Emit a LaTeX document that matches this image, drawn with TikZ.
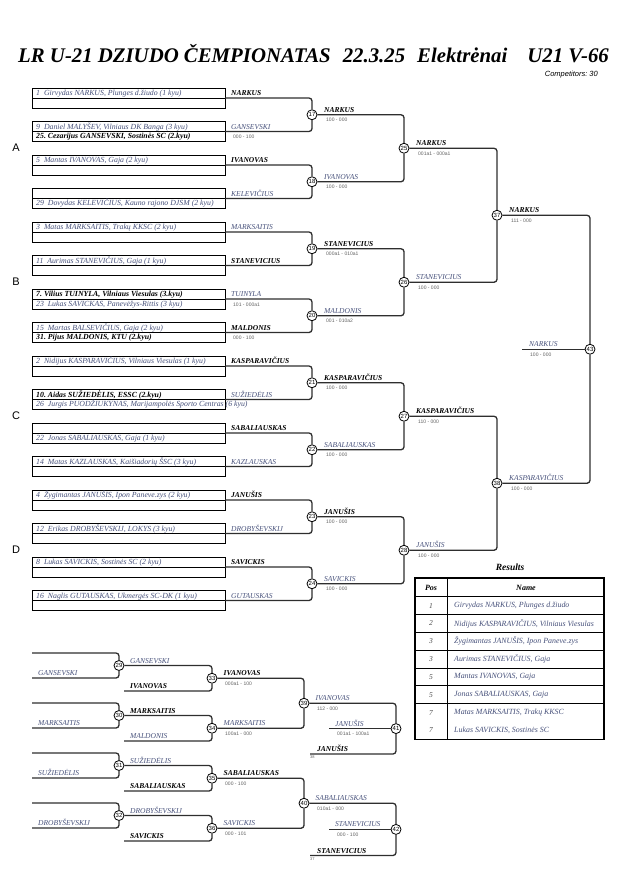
\documentclass[tikz,border=0pt]{standalone}
\usepackage{fontspec}
\setmainfont{Liberation Serif}
\setsansfont{Liberation Sans}

\definecolor{JudoBlue}{HTML}{46507A}
\definecolor{JudoGrey}{HTML}{606060}
\definecolor{JudoLine}{HTML}{2E2E2E}

\tikzset{
  bline/.style={draw=JudoLine, line width=1.3pt, rounded corners=3pt},
  ebox/.style={draw=black, line width=0.9pt},
  mnum/.style={circle, draw=black, fill=white, line width=0.8pt, inner sep=0pt,
    minimum size=10pt, font=\sffamily\fontsize{6}{6}\selectfont},
  win/.style={anchor=base west, inner sep=0pt, font=\fontsize{7.5}{8}\selectfont\bfseries\itshape},
  lose/.style={anchor=base west, inner sep=0pt, text=JudoBlue, font=\fontsize{7.5}{8}\selectfont\itshape},
  score/.style={anchor=west, inner sep=0pt, text=JudoGrey, font=\sffamily\fontsize{5}{5}\selectfont},
  entry/.style={anchor=base west, inner sep=0pt, text=JudoBlue, font=\fontsize{7.8}{8}\selectfont\itshape},
  seeded/.style={anchor=base west, inner sep=0pt, font=\fontsize{7.8}{8}\selectfont\bfseries\itshape},
  pool/.style={font=\sffamily\fontsize{11}{11}\selectfont},
  thead/.style={font=\fontsize{8}{8}\selectfont\bfseries\itshape},
  rpos/.style={text=black!70, font=\fontsize{7.5}{8}\selectfont\itshape},
  rname/.style={anchor=west, inner sep=0pt, text=JudoBlue, font=\fontsize{7.9}{8}\selectfont\itshape},
  from/.style={anchor=north west, inner sep=0pt, text=JudoGrey, font=\sffamily\fontsize{4}{4}\selectfont},
}

\begin{document}
\begin{tikzpicture}[x=1pt, y=-1pt]
\useasboundingbox (0,0) rectangle (630,891);

% title
\node[anchor=base west, inner sep=0pt, font=\fontsize{20.8}{22}\selectfont\bfseries\itshape] (title) at (18,63)
  {LR U-21 DZIUDO ČEMPIONATAS\hspace{12pt}22.3.25\hspace{12pt}Elektrėnai\hspace{20pt}U21 V-66};
\node[anchor=base east, inner sep=0pt, font=\sffamily\itshape\fontsize{7.5}{8}\selectfont] (comp) at (598,77) {Competitors:~30};

% pools
\foreach \pl [count=\kk from 0] in {A,B,C,D}
  \node[pool] (pool\pl) at (16,{148+134*\kk}) {\pl};

% entry boxes
\foreach \ii in {1,...,16}{
  \pgfmathsetmacro\ty{88+33.5*(\ii-1)}
  \draw[ebox] (32,\ty) rectangle (225,\ty+20);
  \draw[ebox] (32,\ty+10) -- (225,\ty+10);
  \coordinate (e\ii) at (225,\ty+10);
}
\foreach \ii/\rw/\sty/\txt in {
  1/0/entry/{1~~Girvydas NARKUS, Plunges d.žiudo (1~kyu)},
  2/0/entry/{9~~Daniel MALYŠEV, Vilniaus DK Banga (3~kyu)},
  2/1/seeded/{25.~Cezarijus GANSEVSKI, Sostinės SC (2.kyu)},
  3/0/entry/{5~~Mantas IVANOVAS, Gaja (2~kyu)},
  4/1/entry/{29~~Dovydas KELEVIČIUS, Kauno rajono DJSM (2~kyu)},
  5/0/entry/{3~~Matas MARKSAITIS, Trakų KKSC (2~kyu)},
  6/0/entry/{11~~Aurimas STANEVIČIUS, Gaja (1~kyu)},
  7/0/seeded/{7.~Vilius TUINYLA, Vilniaus Viesulas (3.kyu)},
  7/1/entry/{23~~Lukas SAVICKAS, Panevėžys-Rittis (3~kyu)},
  8/0/entry/{15~~Martas BALSEVIČIUS, Gaja (2~kyu)},
  8/1/seeded/{31.~Pijus MALDONIS, KTU (2.kyu)},
  9/0/entry/{2~~Nidijus KASPARAVIČIUS, Vilniaus Viesulas (1~kyu)},
  10/0/seeded/{10.~Aidas SUŽIEDĖLIS, ESSC (2.kyu)},
  10/1/entry/{26~~Jurgis PUODŽIUKYNAS, Marijampolės Sporto Centras (6~kyu)},
  11/1/entry/{22~~Jonas SABALIAUSKAS, Gaja (1~kyu)},
  12/0/entry/{14~~Matas KAZLAUSKAS, Kaišiadorių ŠSC (3~kyu)},
  13/0/entry/{4~~Žygimantas JANUŠIS, Ipon Paneve.zys (2~kyu)},
  14/0/entry/{12~~Erikas DROBYŠEVSKIJ, LOKYS (3~kyu)},
  15/0/entry/{8~~Lukas SAVICKIS, Sostinės SC (2~kyu)},
  16/0/entry/{16~~Naglis GUTAUSKAS, Ukmergės SC-DK (1~kyu)}}
  \node[\sty] at (36,{88+33.5*(\ii-1)+7.5+9.5*\rw}) {\txt};

% main bracket
\foreach \kk in {1,...,8}{
  \pgfmathtruncatemacro\mn{16+\kk}
  \node[mnum] (m\mn) at (312,{114.75+67*(\kk-1)}) {\mn};
}
\foreach \kk in {1,...,4}{
  \pgfmathtruncatemacro\mn{24+\kk}
  \node[mnum] (m\mn) at (404,{148.25+134*(\kk-1)}) {\mn};
}
\node[mnum] (m37) at (497,215.25) {37};
\node[mnum] (m38) at (497,483.25) {38};
\node[mnum] (m43) at (590,349.25) {43};
\coordinate (fin) at (522,349.25);

\foreach \kk in {1,...,8}{
  \pgfmathtruncatemacro\mn{16+\kk}
  \pgfmathtruncatemacro\ma{2*\kk-1}
  \pgfmathtruncatemacro\mb{2*\kk}
  \draw[bline] (e\ma) -| (m\mn.north);
  \draw[bline] (e\mb) -| (m\mn.south);
}
\foreach \mn/\ma/\mb in {25/17/18,26/19/20,27/21/22,28/23/24,37/25/26,38/27/28,43/37/38}{
  \draw[bline] (m\ma.east) -| (m\mn.north);
  \draw[bline] (m\mb.east) -| (m\mn.south);
}
\draw[bline] (fin) -- (m43.west);

% names after the first round
\foreach \ii/\sty/\nm in {1/win/NARKUS, 2/lose/GANSEVSKI, 3/win/IVANOVAS, 4/lose/KELEVIČIUS,
  5/lose/MARKSAITIS, 6/win/STANEVICIUS, 7/lose/TUINYLA, 8/win/MALDONIS,
  9/win/KASPARAVIČIUS, 10/lose/SUŽIEDĖLIS, 11/win/SABALIAUSKAS, 12/lose/KAZLAUSKAS,
  13/win/JANUŠIS, 14/lose/DROBYŠEVSKIJ, 15/win/SAVICKIS, 16/lose/GUTAUSKAS}
  \node[\sty] at ([xshift=6pt,yshift=2.5pt]e\ii) {\nm};
\foreach \ii/\scr in {2/000 - 100, 7/101 - 000a1, 8/000 - 100}
  \node[score] at ([xshift=8pt,yshift=-5.5pt]e\ii) {\scr};

% winners of each match
\foreach \mn/\sty/\nm/\scr in {17/win/NARKUS/100 - 000, 18/lose/IVANOVAS/100 - 000,
  19/win/STANEVICIUS/000a1 - 010a1, 20/lose/MALDONIS/001 - 010a2,
  21/win/KASPARAVIČIUS/100 - 000, 22/lose/SABALIAUSKAS/100 - 000,
  23/win/JANUŠIS/100 - 000, 24/lose/SAVICKIS/100 - 000,
  25/win/NARKUS/001a1 - 000a1, 26/lose/STANEVICIUS/100 - 000,
  27/win/KASPARAVIČIUS/110 - 000, 28/lose/JANUŠIS/100 - 000,
  37/win/NARKUS/111 - 000, 38/lose/KASPARAVIČIUS/100 - 000}{
  \node[\sty] at ([xshift=12pt,yshift=2.5pt]m\mn.center) {\nm};
  \node[score] at ([xshift=14pt,yshift=-5.5pt]m\mn.center) {\scr};
}
\node[lose] at ([xshift=7pt,yshift=2.5pt]fin) {NARKUS};
\node[score] at ([xshift=8pt,yshift=-5.5pt]fin) {100 - 000};

% repechage
\foreach \grp in {0,...,3}{
  \coordinate (ra\grp) at (32,{653+50*\grp});
  \coordinate (rb\grp) at (32,{678+50*\grp});
  \coordinate (rc\grp) at (124,{691+50*\grp});
  \pgfmathtruncatemacro\mn{29+\grp}
  \pgfmathtruncatemacro\mq{33+\grp}
  \node[mnum] (m\mn) at (119,{665.5+50*\grp}) {\mn};
  \node[mnum] (m\mq) at (212,{678.25+50*\grp}) {\mq};
  \draw[bline] (ra\grp) -| (m\mn.north);
  \draw[bline] (rb\grp) -| (m\mn.south);
  \draw[bline] (m\mn.east) -| (m\mq.north);
  \draw[bline] (rc\grp) -| (m\mq.south);
}
\node[mnum] (m39) at (304,703.25) {39};
\node[mnum] (m40) at (304,803.25) {40};
\node[mnum] (m41) at (396,728.6) {41};
\node[mnum] (m42) at (396,829.4) {42};
\coordinate (rd1) at (310,754);
\coordinate (rd2) at (310,855.5);
\coordinate (rl1) at (329,728.6);
\coordinate (rl2) at (329,829.4);
\foreach \mn/\ma/\mb in {39/33/34,40/35/36}{
  \draw[bline] (m\ma.east) -| (m\mn.north);
  \draw[bline] (m\mb.east) -| (m\mn.south);
}
\draw[bline] (m39.east) -| (m41.north);
\draw[bline] (rd1) -| (m41.south);
\draw[bline] (rl1) -- (m41.west);
\draw[bline] (m40.east) -| (m42.north);
\draw[bline] (rd2) -| (m42.south);
\draw[bline] (rl2) -- (m42.west);

\foreach \grp/\nm in {0/GANSEVSKI,1/MARKSAITIS,2/SUŽIEDĖLIS,3/DROBYŠEVSKIJ}
  \node[lose] at ([xshift=6pt,yshift=2.5pt]rb\grp) {\nm};
\foreach \grp/\sty/\nm in {0/win/IVANOVAS,1/lose/MALDONIS,2/win/SABALIAUSKAS,3/win/SAVICKIS}
  \node[\sty] at ([xshift=6pt,yshift=2.5pt]rc\grp) {\nm};
\foreach \mn/\sty/\nm in {29/lose/GANSEVSKI,30/win/MARKSAITIS,31/lose/SUŽIEDĖLIS,32/lose/DROBYŠEVSKIJ}
  \node[\sty] at ([xshift=11pt,yshift=2.5pt]m\mn.center) {\nm};
\foreach \mn/\sty/\nm/\scr in {33/win/IVANOVAS/000a1 - 100, 34/lose/MARKSAITIS/100a1 - 000,
  35/win/SABALIAUSKAS/000 - 100, 36/lose/SAVICKIS/000 - 101,
  39/lose/IVANOVAS/112 - 000, 40/lose/SABALIAUSKAS/010a1 - 000}{
  \node[\sty] at ([xshift=11.5pt,yshift=2.5pt]m\mn.center) {\nm};
  \node[score] at ([xshift=13pt,yshift=-5.5pt]m\mn.center) {\scr};
}
\node[lose] at ([xshift=6pt,yshift=2.5pt]rl1) {JANUŠIS};
\node[score] at ([xshift=8pt,yshift=-5.5pt]rl1) {001a1 - 100a1};
\node[lose] at ([xshift=6pt,yshift=2.5pt]rl2) {STANEVICIUS};
\node[score] at ([xshift=8pt,yshift=-5.5pt]rl2) {000 - 100};
\node[win] at ([xshift=7pt,yshift=2.5pt]rd1) {JANUŠIS};
\node[from] at ([yshift=-1.5pt]rd1) {38};
\node[win] at ([xshift=7pt,yshift=2.5pt]rd2) {STANEVICIUS};
\node[from] at ([yshift=-1.5pt]rd2) {37};

% results table
\node[font=\fontsize{9.5}{10}\selectfont\bfseries\itshape] (restitle) at (510,567) {Results};
\draw[line width=1.8pt] (415,578) rectangle (604,739.5);
\draw[line width=1pt] (447.3,578) -- (447.3,739.5);
\foreach \kk in {0,...,6}
  \draw[line width=1pt] (415,{596.7+17.83*\kk}) -- (604,{596.7+17.83*\kk});
\node[thead] at (431,587.5) {Pos};
\node[thead] at (526,587.5) {Name};
\foreach \pl/\nm [count=\kk] in {1/{Girvydas NARKUS, Plunges d.žiudo},
  2/{Nidijus KASPARAVIČIUS, Vilniaus Viesulas}, 3/{Žygimantas JANUŠIS, Ipon Paneve.zys},
  3/{Aurimas STANEVIČIUS, Gaja}, 5/{Mantas IVANOVAS, Gaja}, 5/{Jonas SABALIAUSKAS, Gaja},
  7/{Matas MARKSAITIS, Trakų KKSC}, 7/{Lukas SAVICKIS, Sostinės SC}}{
  \node[rpos] at (431,{596.7+17.83*(\kk-0.5)}) {\pl};
  \node[rname] at (454,{596.7+17.83*(\kk-0.5)}) {\nm};
}
\end{tikzpicture}
\end{document}
